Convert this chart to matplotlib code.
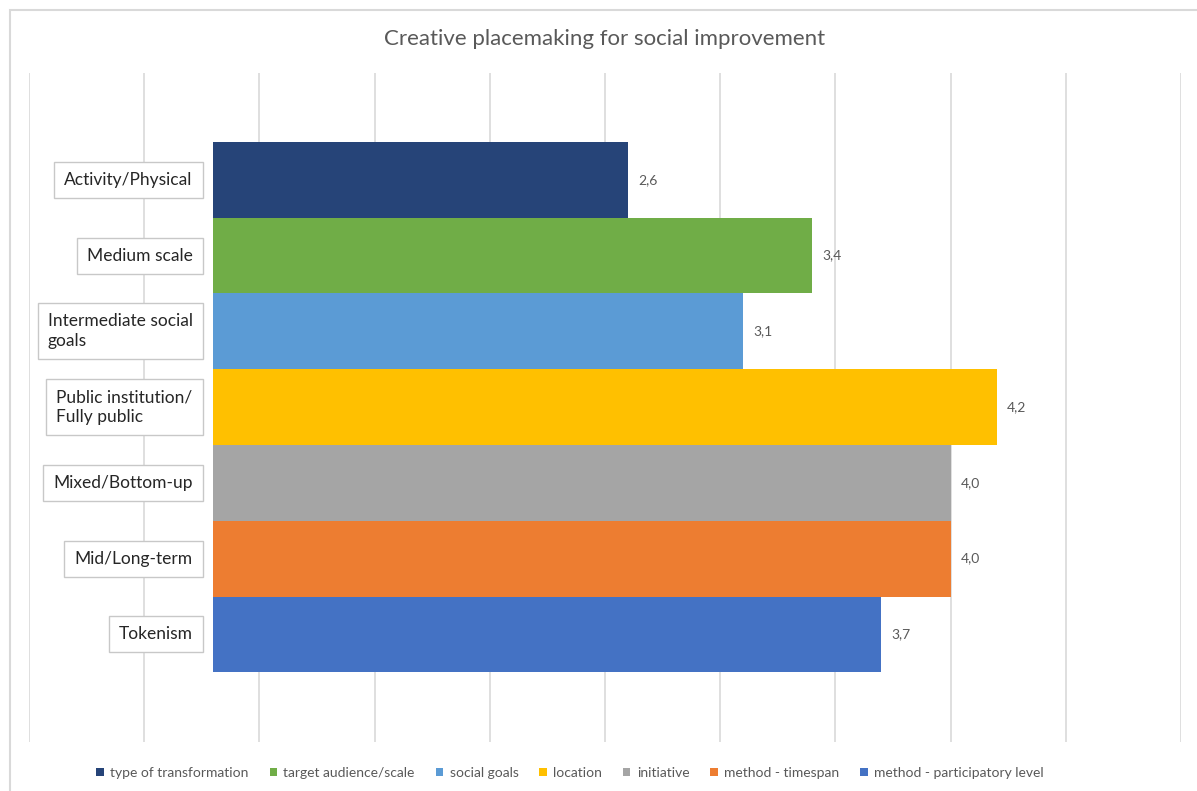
import matplotlib
matplotlib.use("Agg")
import matplotlib.pyplot as plt
from matplotlib.patches import Patch, Rectangle

plt.rcParams['font.family'] = ['Lato', 'DejaVu Sans']

# %%
# data
series = ["type of transformation", "target audience/scale", "social goals",
          "location", "initiative", "method - timespan",
          "method - participatory level"]
bar_labels = ["Activity/Physical", "Medium scale", "Intermediate social\ngoals",
              "Public institution/\nFully public", "Mixed/Bottom-up",
              "Mid/Long-term", "Tokenism"]
values = [2.6, 3.4, 3.1, 4.2, 4.0, 4.0, 3.7]
colors = ["#264478", "#70AD47", "#5B9BD5", "#FFC000", "#A5A5A5", "#ED7D31", "#4472C4"]

BAR_BASE = 0.8   # bars start right of the label boxes
LABEL_X = 0.71   # right edge of the label text
GRID = [i * 0.5 for i in range(11)]

# %%
fig = plt.figure(figsize=(11.97, 7.91), dpi=100)
ax = fig.add_axes([29 / 1197, 1 - 742 / 791, (1181 - 29) / 1197, (742 - 73) / 791])

for x in GRID:
    ax.axvline(x, color="#d9d9d9", lw=1.2, zorder=0)

ypos = list(range(len(values)))
ax.barh(ypos, [v - BAR_BASE for v in values], left=BAR_BASE, height=1.0,
        color=colors, zorder=2)

for y, v, lab in zip(ypos, values, bar_labels):
    ax.text(v + 0.045, y, f"{v:.1f}".replace(".", ","), ha="left", va="center",
            fontsize=10, color="#595959", zorder=3)
    ax.text(LABEL_X, y, lab, ha="right", va="center", multialignment="left",
            fontsize=12.5, color="#262626", zorder=4, linespacing=1.3,
            bbox=dict(boxstyle="square,pad=0.58", fc="white", ec="#c8c8c8", lw=1))

ax.set_xlim(0, 5)
ax.set_ylim(6.5 + 0.92, -0.5 - 0.91)
ax.axis("off")

fig.text(605 / 1197, 1 - 39 / 791, "Creative placemaking for social improvement",
         ha="center", va="center", fontsize=16, color="#595959")

handles = [Patch(facecolor=c, edgecolor="none", label=s) for c, s in zip(colors, series)]
fig.legend(handles=handles, loc="center", bbox_to_anchor=(570 / 1197, 1 - 773 / 791),
           ncol=7, frameon=False, fontsize=10, handlelength=0.55, handleheight=0.55,
           handletextpad=0.45, columnspacing=1.5, labelcolor="#595959")

# chart frame
fig.patches.append(Rectangle((9.5 / 1197, -0.1), 1.2, 0.1 + 1 - 10 / 791,
                             transform=fig.transFigure, fill=False,
                             ec="#d9d9d9", lw=1.5))

fig.savefig("out.png", dpi=100)
